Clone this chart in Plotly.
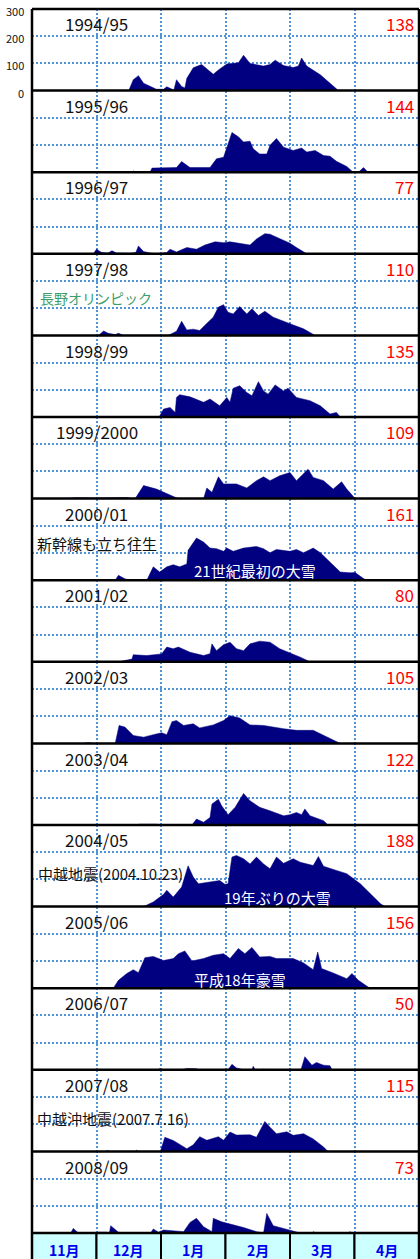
import plotly.graph_objects as go
from plotly.subplots import make_subplots

seasons = ["1994/95", "1995/96", "1996/97", "1997/98", "1998/99", "1999/2000",
           "2000/01", "2001/02", "2002/03", "2003/04", "2004/05", "2005/06",
           "2006/07", "2007/08", "2008/09"]
max_depth = [138, 144, 77, 110, 135, 109, 161, 80, 105, 122, 188, 156, 50, 115, 73]
months = ["11月", "12月", "1月", "2月", "3月", "4月"]

# pos = months since 1 Nov (1.0 = 1 Dec, 2.0 = 1 Jan, ...), depth in cm
pos_9495 = [1.50, 1.57, 1.65, 1.73, 1.93, 2.04, 2.09, 2.17, 2.20, 2.24, 2.32, 2.37, 2.40, 2.50, 2.63,
            2.81, 2.89, 3.02, 3.20, 3.28, 3.38, 3.59, 3.69, 3.77, 3.90, 4.05, 4.13, 4.18, 4.26, 4.47,
            4.62, 4.75, 5.08, 5.11, 5.14]
depth_9495 = [0, 40, 55, 27, 5, 5, 14, 3, 2, 40, 15, 10, 45, 84, 96,
              60, 76, 98, 102, 130, 100, 90, 96, 112, 92, 85, 90, 120, 90, 58,
              25, 0, 0, 3, 0]

pos_9596 = [1.19, 1.21, 1.24, 1.55, 1.57, 1.60, 1.83, 1.86, 2.24, 2.32, 2.45, 2.76, 2.86, 2.97, 3.10,
            3.20, 3.28, 3.38, 3.43, 3.53, 3.64, 3.69, 3.79, 3.90, 4.05, 4.18, 4.26, 4.39, 4.52, 4.62,
            4.72, 4.88, 4.98, 5.06, 5.14, 5.21]
depth_9596 = [0, 3, 0, 0, 5, 0, 0, 15, 17, 39, 17, 17, 49, 55, 146,
              130, 111, 114, 86, 67, 67, 99, 124, 92, 80, 89, 74, 80, 61, 59,
              40, 21, 0, 0, 17, 0]

pos_9697 = [0.95, 1.00, 1.08, 1.18, 1.24, 1.31, 1.52, 1.61, 1.65, 1.73, 1.83, 1.93, 2.09, 2.14, 2.24,
            2.40, 2.55, 2.68, 2.84, 2.97, 3.07, 3.28, 3.38, 3.48, 3.61, 3.69, 3.85, 4.00, 4.10, 4.26]
depth_9697 = [0, 17, 5, 3, 11, 3, 2, 5, 29, 8, 3, 0, 5, 17, 7,
              23, 17, 32, 44, 41, 44, 35, 32, 54, 74, 72, 54, 39, 23, 0]

pos_9798 = [1.03, 1.11, 1.18, 1.29, 1.34, 1.42, 2.11, 2.24, 2.32, 2.40, 2.50, 2.60, 2.68, 2.81,
            2.89, 2.97, 3.04, 3.12, 3.22, 3.33, 3.41, 3.51, 3.61, 3.74, 4.00, 4.21, 4.39]
depth_9798 = [0, 16, 8, 3, 8, 0, 0, 15, 52, 20, 23, 18, 37, 67,
              104, 113, 85, 79, 106, 79, 98, 73, 89, 67, 43, 24, 0]

pos_9899 = [1.97, 2.04, 2.14, 2.22, 2.24, 2.29, 2.45, 2.66, 2.76, 2.91, 3.02, 3.07, 3.12, 3.22, 3.33,
            3.41, 3.51, 3.59, 3.66, 3.77, 3.90, 3.97, 4.10, 4.31, 4.47, 4.62, 4.72, 4.78, 4.90, 4.93,
            4.96]
depth_9899 = [0, 29, 35, 17, 72, 82, 74, 54, 66, 41, 72, 54, 106, 115, 90,
              78, 130, 96, 84, 118, 96, 106, 72, 60, 41, 11, 17, 0, 0, 3,
              0]

pos_9900 = [0.49, 0.69, 1.00, 1.47, 1.55, 1.60, 1.73, 1.93, 2.22, 2.27, 2.66, 2.71, 2.79, 2.89, 2.97,
            3.17, 3.33, 3.48, 3.59, 3.69, 3.84, 4.00, 4.10, 4.28, 4.36, 4.52, 4.67, 4.80, 4.88, 5.01]
depth_9900 = [0, 3, 2, 4, 0, 0, 48, 35, 5, 0, 0, 39, 23, 80, 54,
              54, 39, 66, 80, 66, 84, 96, 66, 108, 78, 66, 35, 62, 35, 0]

pos_0001 = [1.29, 1.34, 1.44, 1.52, 1.78, 1.88, 1.98, 2.09, 2.19, 2.29, 2.40, 2.42, 2.55, 2.66, 2.76,
            2.86, 2.97, 3.02, 3.12, 3.28, 3.48, 3.59, 3.69, 3.79, 4.00, 4.10, 4.21, 4.36, 4.47, 4.62,
            4.78, 4.93, 5.01, 5.14, 5.19]
depth_0001 = [0, 18, 5, 0, 0, 49, 30, 49, 57, 49, 60, 110, 155, 140, 118,
              116, 106, 118, 106, 118, 124, 116, 101, 113, 106, 113, 101, 118, 101, 67,
              30, 27, 28, 6, 0]

pos_0102 = [1.34, 1.47, 1.55, 1.57, 1.78, 2.01, 2.09, 2.19, 2.27, 2.45, 2.66, 2.76, 2.79,
            2.86, 2.97, 3.07, 3.17, 3.28, 3.38, 3.53, 3.69, 3.84, 4.00, 4.16, 4.31]
depth_0102 = [0, 7, 10, 26, 23, 29, 54, 48, 54, 35, 23, 30, 66,
              41, 63, 72, 48, 41, 66, 76, 72, 48, 33, 17, 0]

pos_0203 = [0.80, 0.87, 0.95, 1.29, 1.35, 1.44, 1.57, 1.73, 1.88, 2.01, 2.09, 2.17, 2.24, 2.35,
            2.50, 2.60, 2.81, 2.97, 3.07, 3.22, 3.38, 3.59, 3.90, 4.10, 4.36, 4.52, 4.78]
depth_0203 = [0, 3, 0, 0, 66, 60, 29, 23, 32, 39, 32, 80, 84, 66,
              72, 57, 68, 84, 102, 93, 68, 66, 54, 48, 48, 29, 0]

pos_0304 = [1.62, 1.67, 1.93, 1.98, 2.48, 2.55, 2.66, 2.76, 2.79, 2.89, 2.94, 3.04, 3.15,
            3.28, 3.38, 3.53, 3.69, 3.90, 4.00, 4.10, 4.18, 4.23, 4.31, 4.52, 4.59]
depth_0304 = [0, 3, 3, 0, 0, 22, 10, 28, 77, 95, 71, 38, 65,
              116, 89, 65, 52, 34, 38, 46, 38, 59, 34, 16, 0]

pos_0405 = [1.73, 1.88, 2.04, 2.09, 2.19, 2.32, 2.42, 2.50, 2.58, 2.76, 2.91, 2.99, 3.04, 3.10, 3.17,
            3.28, 3.38, 3.48, 3.59, 3.69, 3.79, 3.90, 4.05, 4.16, 4.36, 4.44, 4.52, 4.72, 4.88, 5.09,
            5.24, 5.40, 5.47]
depth_0405 = [0, 17, 45, 60, 35, 72, 150, 109, 84, 90, 96, 82, 84, 182, 188,
              176, 157, 182, 157, 139, 182, 159, 176, 163, 151, 184, 148, 133, 121, 84,
              48, 11, 0]

pos_0506 = [1.03, 1.08, 1.13, 1.26, 1.34, 1.47, 1.57, 1.65, 1.75, 1.88, 2.04, 2.19, 2.27, 2.37, 2.48,
            2.66, 2.81, 2.97, 3.07, 3.20, 3.30, 3.41, 3.53, 3.69, 3.79, 4.05, 4.21, 4.36, 4.43, 4.49,
            4.67, 4.88, 4.96, 5.06, 5.24]
depth_0506 = [0, 3, 0, 0, 29, 54, 68, 57, 112, 117, 102, 109, 127, 137, 100,
              109, 121, 127, 109, 146, 127, 150, 115, 117, 109, 109, 93, 68, 133, 72,
              56, 35, 54, 29, 0]

pos_0607 = [1.96, 1.98, 2.03, 2.32, 2.40, 2.55, 2.58, 3.04, 3.10, 3.17, 3.28, 3.41,
            3.43, 3.46, 3.56, 3.59, 3.64, 4.17, 4.23, 4.34, 4.41, 4.52, 4.62, 4.65]
depth_0607 = [0, 5, 0, 0, 5, 4, 0, 0, 20, 7, 0, 0,
              13, 0, 0, 2, 0, 0, 48, 17, 27, 17, 15, 0]

pos_0708 = [1.13, 1.16, 1.21, 1.60, 1.62, 1.65, 1.99, 2.06, 2.19, 2.40, 2.50, 2.60, 2.71, 2.89,
            2.97, 3.07, 3.17, 3.38, 3.48, 3.61, 3.69, 3.79, 3.95, 4.05, 4.21, 4.36, 4.52, 4.59]
depth_0708 = [0, 3, 0, 0, 4, 0, 0, 52, 40, 10, 24, 54, 41, 54,
              41, 71, 60, 61, 52, 110, 89, 65, 72, 59, 65, 46, 16, 0]

pos_0809 = [0.60, 0.64, 0.72, 1.00, 1.03, 1.16, 1.18, 1.20, 1.22, 1.34, 1.44, 1.84, 1.88, 1.96, 2.04,
            2.35, 2.45, 2.55, 2.66, 2.79, 2.81, 2.94, 3.28, 3.48, 3.59, 3.64, 3.74, 4.00, 4.10, 4.16,
            4.34, 4.36, 4.40, 4.90, 4.93, 4.97]
depth_0809 = [0, 17, 0, 0, 3, 3, 0, 0, 27, 3, 0, 0, 15, 3, 11,
              5, 39, 54, 23, 5, 54, 41, 20, 5, 0, 72, 27, 9, 2, 0,
              0, 5, 0, 0, 5, 0]

series = [(pos_9495, depth_9495), (pos_9596, depth_9596), (pos_9697, depth_9697),
          (pos_9798, depth_9798), (pos_9899, depth_9899), (pos_9900, depth_9900),
          (pos_0001, depth_0001), (pos_0102, depth_0102), (pos_0203, depth_0203),
          (pos_0304, depth_0304), (pos_0405, depth_0405), (pos_0506, depth_0506),
          (pos_0607, depth_0607), (pos_0708, depth_0708), (pos_0809, depth_0809)]

# (row, text, x, y, colour, anchor)
notes = [
    (3, "長野オリンピック", 0.09, 138, "#3A9E6A", "left"),
    (6, "新幹線も立ち往生", 0.05, 136, "#111111", "left"),
    (6, "21世紀最初の大雪", 3.46, 34, "white", "center"),
    (10, "中越地震(2004.10.23)", 0.06, 120, "#111111", "left"),
    (10, "19年ぶりの大雪", 3.81, 35, "white", "center"),
    (11, "平成18年豪雪", 3.22, 33, "white", "center"),
    (13, "中越沖地震(2007.7.16)", 0.05, 122, "#111111", "left"),
]

NAVY = "#000080"
GRID = "#4F94DA"
JP = "Noto Sans CJK JP"
n = len(seasons)

fig = make_subplots(rows=n, cols=1, vertical_spacing=0)

for i, (x, y) in enumerate(series):
    fig.add_trace(go.Scatter(x=x, y=y, mode="lines", fill="tozeroy",
                             line=dict(color=NAVY, width=0.5), fillcolor=NAVY,
                             hoverinfo="skip", showlegend=False),
                  row=i + 1, col=1)

fig.update_xaxes(range=[0, 6], tickvals=[1, 2, 3, 4, 5], showticklabels=False, ticks="",
                 showgrid=True, gridcolor=GRID, gridwidth=2, griddash="2px,2px",
                 zeroline=False, showline=False, fixedrange=True)
fig.update_yaxes(range=[0, 300], tickvals=[100, 200], showticklabels=False, ticks="",
                 showgrid=True, gridcolor=GRID, gridwidth=2, griddash="2px,2px",
                 zeroline=False, showline=False, fixedrange=True)


def ax(i):
    return "" if i == 0 else str(i + 1)


annotations = []
for v in [0, 100, 200, 300]:
    annotations.append(dict(xref="paper", yref="y", x=0, y=v, xanchor="right", xshift=-6,
                            yshift=-2, text=str(v), showarrow=False,
                            font=dict(family=JP, size=11, color="#111111")))

for i, s in enumerate(seasons):
    annotations.append(dict(xref="x" + ax(i), yref="y" + ax(i), x=1, y=246, text=s,
                            showarrow=False, xanchor="center", yanchor="middle",
                            font=dict(family=JP, size=17, color="#111111")))
    annotations.append(dict(xref="paper", yref="y" + ax(i), x=1, y=246, text=str(max_depth[i]),
                            showarrow=False, xanchor="right", yanchor="middle", xshift=-3,
                            font=dict(family=JP, size=17, color="#FF0000")))

for row, text, x, y, color, anchor in notes:
    annotations.append(dict(xref="x" + ax(row), yref="y" + ax(row), x=x, y=y, text=text,
                            showarrow=False, xanchor=anchor, yanchor="middle",
                            font=dict(family=JP, size=15 if row != 3 else 14, color=color)))

row_h = 26 / 1224
for i, m in enumerate(months):
    annotations.append(dict(xref="x" + ax(n - 1), yref="paper", x=i + 0.5, y=-row_h * 0.65,
                            text="<b>" + m + "</b>", showarrow=False, yanchor="middle",
                            font=dict(family=JP, size=14, color="#0000EE")))

shapes = []
for i in range(len(months)):
    shapes.append(dict(type="rect", xref="x" + ax(n - 1), yref="paper", x0=i, x1=i + 1,
                       y0=-row_h * 1.3, y1=0, fillcolor="#CCFFFF",
                       line=dict(color="black", width=2)))
for k in range(n + 1):
    shapes.append(dict(type="line", xref="paper", yref="paper", x0=0, x1=1, y0=k / n, y1=k / n,
                       line=dict(color="black", width=2.5)))
for xp in [0, 1]:
    shapes.append(dict(type="line", xref="paper", yref="paper", x0=xp, x1=xp, y0=-row_h * 1.3,
                       y1=1, line=dict(color="black", width=2.5)))

fig.update_layout(width=420, height=1259, margin=dict(l=32, r=1, t=9, b=26),
                  paper_bgcolor="white", plot_bgcolor="white",
                  annotations=annotations, shapes=shapes, showlegend=False)

# drop the default page margin so the figure fills the window exactly
fig.write_html("out.html", config={"displayModeBar": False},
               post_script="document.body.style.margin='0';document.body.style.overflow='hidden';")
